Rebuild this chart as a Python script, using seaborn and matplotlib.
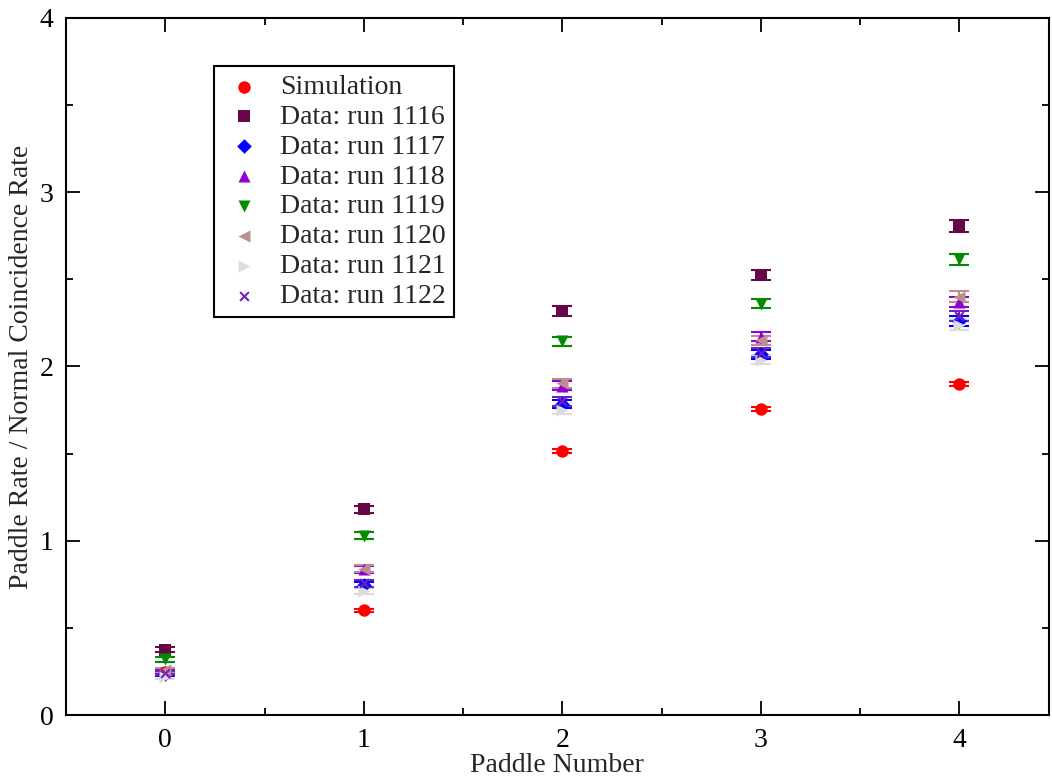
import numpy as np
import pandas as pd
import matplotlib
matplotlib.use("Agg")
import matplotlib.pyplot as plt
import seaborn as sns
from matplotlib.ticker import MultipleLocator

# ---- data ----
paddles = [0, 1, 2, 3, 4]
sim = [0.245, 0.60, 1.515, 1.755, 1.90]
sim_err = [0.008, 0.010, 0.012, 0.012, 0.013]
run1116 = [0.375, 1.18, 2.32, 2.525, 2.805]
err1116 = [0.014, 0.022, 0.028, 0.027, 0.035]
run1117 = [0.235, 0.745, 1.785, 2.07, 2.26]
err1117 = [0.012, 0.018, 0.025, 0.025, 0.030]
run1118 = [0.245, 0.835, 1.89, 2.17, 2.37]
err1118 = [0.012, 0.020, 0.026, 0.026, 0.030]
run1119 = [0.32, 1.03, 2.145, 2.36, 2.615]
err1119 = [0.013, 0.020, 0.027, 0.027, 0.032]
run1120 = [0.26, 0.84, 1.905, 2.15, 2.40]
err1120 = [0.012, 0.020, 0.026, 0.026, 0.032]
run1121 = [0.22, 0.71, 1.75, 2.04, 2.24]
err1121 = [0.012, 0.018, 0.025, 0.025, 0.030]
run1122 = [0.24, 0.755, 1.80, 2.08, 2.29]
err1122 = [0.012, 0.018, 0.025, 0.025, 0.030]

labels = ["Simulation", "Data: run 1116", "Data: run 1117", "Data: run 1118",
          "Data: run 1119", "Data: run 1120", "Data: run 1121", "Data: run 1122"]
values = [sim, run1116, run1117, run1118, run1119, run1120, run1121, run1122]
errors = [sim_err, err1116, err1117, err1118, err1119, err1120, err1121, err1122]
colors = ["#ff0000", "#670748", "#0000ff", "#9400d3", "#008b00", "#bc8f8f", "#dcdcdc", "#7221bc"]
markers = ["o", "s", "D", "^", "v", "<", ">", "x"]
sizes = [80, 70, 55, 75, 75, 75, 75, 40]

sns.set_style("ticks")
plt.rcParams['font.family'] = ['Liberation Serif', 'DejaVu Serif']

fig = plt.figure(figsize=(10.52, 7.81), dpi=100)
ax = fig.add_axes([0.0627, 0.0845, 0.9343, 0.8925])

for lab, v, e, c, m, s in zip(labels, values, errors, colors, markers, sizes):
    df = pd.DataFrame({"paddle": paddles, "rate": v})
    ax.errorbar(paddles, v, yerr=e, fmt="none", ecolor=c, elinewidth=1.5,
                capsize=7, capthick=1.5, zorder=2)
    sns.scatterplot(data=df, x="paddle", y="rate", ax=ax, color=c, marker=m, s=s,
                    edgecolor=c if m != "x" else None, linewidth=1.5 if m == "x" else 0,
                    label=lab, zorder=3)

ax.set_xlim(-0.5, 4.45)
ax.set_ylim(0, 4)
ax.xaxis.set_major_locator(MultipleLocator(1))
ax.xaxis.set_minor_locator(MultipleLocator(0.5))
ax.yaxis.set_major_locator(MultipleLocator(1))
ax.yaxis.set_minor_locator(MultipleLocator(0.5))
ax.tick_params(which="both", direction="in", top=True, right=True, width=1.3, labelsize=20, pad=9, colors="black")
ax.tick_params(which="major", length=10)
ax.tick_params(which="minor", length=5)
for sp in ax.spines.values():
    sp.set_linewidth(1.5)
    sp.set_color("black")

ax.set_xlabel("Paddle Number", fontsize=20, labelpad=0)
ax.set_ylabel("Paddle Rate / Normal Coincidence Rate", fontsize=20, labelpad=4)

leg = ax.legend(loc="upper left", bbox_to_anchor=(0.151, 0.931), fontsize=20,
                frameon=True, fancybox=False, edgecolor="black", borderpad=0.3,
                labelspacing=0.16, handletextpad=0.55, handlelength=1.5, borderaxespad=0)
leg.get_frame().set_linewidth(1.5)
leg.get_frame().set_alpha(1)

fig.savefig("out.png", dpi=100)
